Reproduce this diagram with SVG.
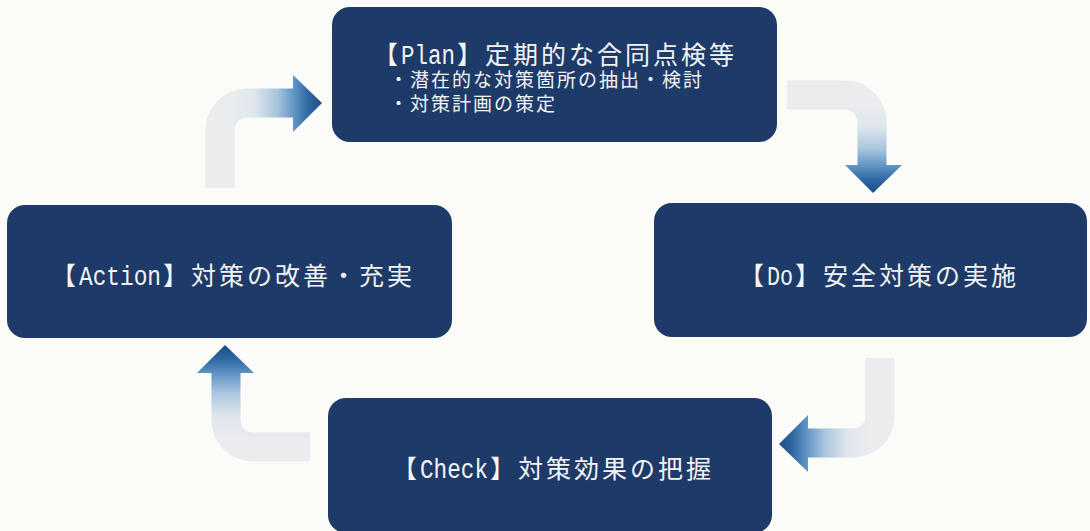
<svg xmlns="http://www.w3.org/2000/svg" width="1090" height="531" viewBox="0 0 1090 531">
<style>
.box{fill:#1e3a68}
.t{fill:#f4f4f4;font-family:"Noto Sans CJK JP","Noto Sans",sans-serif;font-size:25px;letter-spacing:3px}
.s{fill:#f4f4f4;font-family:"Noto Sans CJK JP","Noto Sans",sans-serif;font-size:19px;letter-spacing:2px}
.lat{font-family:"Liberation Mono",monospace;font-size:27px;letter-spacing:0}
.shaft{fill:none;stroke-width:29;stroke-linecap:butt;stroke-linejoin:round}
</style>
<defs>
<linearGradient id="g1" gradientUnits="userSpaceOnUse" x1="232" y1="0" x2="322" y2="0">
<stop offset="0" stop-color="#eaecee"/><stop offset="0.25" stop-color="#dfe6ed"/><stop offset="0.5" stop-color="#a8c5de"/><stop offset="0.7" stop-color="#5e92c2"/><stop offset="0.85" stop-color="#2f68a3"/><stop offset="1" stop-color="#1b4c84"/>
</linearGradient>
<linearGradient id="g2" gradientUnits="userSpaceOnUse" x1="0" y1="105" x2="0" y2="193">
<stop offset="0" stop-color="#eaecee"/><stop offset="0.25" stop-color="#dfe6ed"/><stop offset="0.5" stop-color="#a8c5de"/><stop offset="0.7" stop-color="#5e92c2"/><stop offset="0.85" stop-color="#2f68a3"/><stop offset="1" stop-color="#1b4c84"/>
</linearGradient>
<linearGradient id="g3" gradientUnits="userSpaceOnUse" x1="870" y1="0" x2="779" y2="0">
<stop offset="0" stop-color="#eaecee"/><stop offset="0.25" stop-color="#dfe6ed"/><stop offset="0.5" stop-color="#a8c5de"/><stop offset="0.7" stop-color="#5e92c2"/><stop offset="0.85" stop-color="#2f68a3"/><stop offset="1" stop-color="#1b4c84"/>
</linearGradient>
<linearGradient id="g4" gradientUnits="userSpaceOnUse" x1="0" y1="440" x2="0" y2="345">
<stop offset="0" stop-color="#eaecee"/><stop offset="0.25" stop-color="#dfe6ed"/><stop offset="0.5" stop-color="#a8c5de"/><stop offset="0.7" stop-color="#5e92c2"/><stop offset="0.85" stop-color="#2f68a3"/><stop offset="1" stop-color="#1b4c84"/>
</linearGradient>
</defs>
<rect x="0" y="0" width="1090" height="531" fill="#fbfbf8"/>
<g id="connectors">
<path class="shaft" stroke="url(#g1)" d="M220,188 V130 A27,27 0 0 1 247,103 H294"/>
<polygon fill="url(#g1)" points="293,75 322,103 293,132"/>
<path class="shaft" stroke="url(#g2)" d="M787,95 H845 A27,27 0 0 1 872,122 V166"/>
<polygon fill="url(#g2)" points="845,165 902,165 873,193"/>
<path class="shaft" stroke="url(#g3)" d="M880,358 V416 A27,27 0 0 1 853,443 H807"/>
<polygon fill="url(#g3)" points="808,415 808,472 779,444"/>
<path class="shaft" stroke="url(#g4)" d="M310,447 H253 A27,27 0 0 1 226,420 V372"/>
<polygon fill="url(#g4)" points="197,373 254,373 225,345"/>
</g>
<g id="plan">
<rect class="box" x="332" y="7" width="445" height="135" rx="18"/>
<text class="t" x="373" y="64">【<tspan class="lat" x="401" textLength="54" lengthAdjust="spacingAndGlyphs">Plan</tspan><tspan x="457">】定期的な合同点検等</tspan></text>
<text class="s" x="389" y="87">・潜在的な対策箇所の抽出・検討</text>
<text class="s" x="389" y="111">・対策計画の策定</text>
</g>
<g id="do">
<rect class="box" x="654" y="203" width="433" height="134" rx="18"/>
<text class="t" x="739" y="285">【<tspan class="lat" x="767" textLength="26" lengthAdjust="spacingAndGlyphs">Do</tspan><tspan x="795">】安全対策の実施</tspan></text>
</g>
<g id="check">
<rect class="box" x="328" y="398" width="444" height="135" rx="18"/>
<text class="t" x="392" y="478">【<tspan class="lat" x="420" textLength="68" lengthAdjust="spacingAndGlyphs">Check</tspan><tspan x="490">】対策効果の把握</tspan></text>
</g>
<g id="action">
<rect class="box" x="7" y="205" width="445" height="133" rx="18"/>
<text class="t" x="51" y="285">【<tspan class="lat" x="79" textLength="82" lengthAdjust="spacingAndGlyphs">Action</tspan><tspan x="163">】対策の改善・充実</tspan></text>
</g>
</svg>
